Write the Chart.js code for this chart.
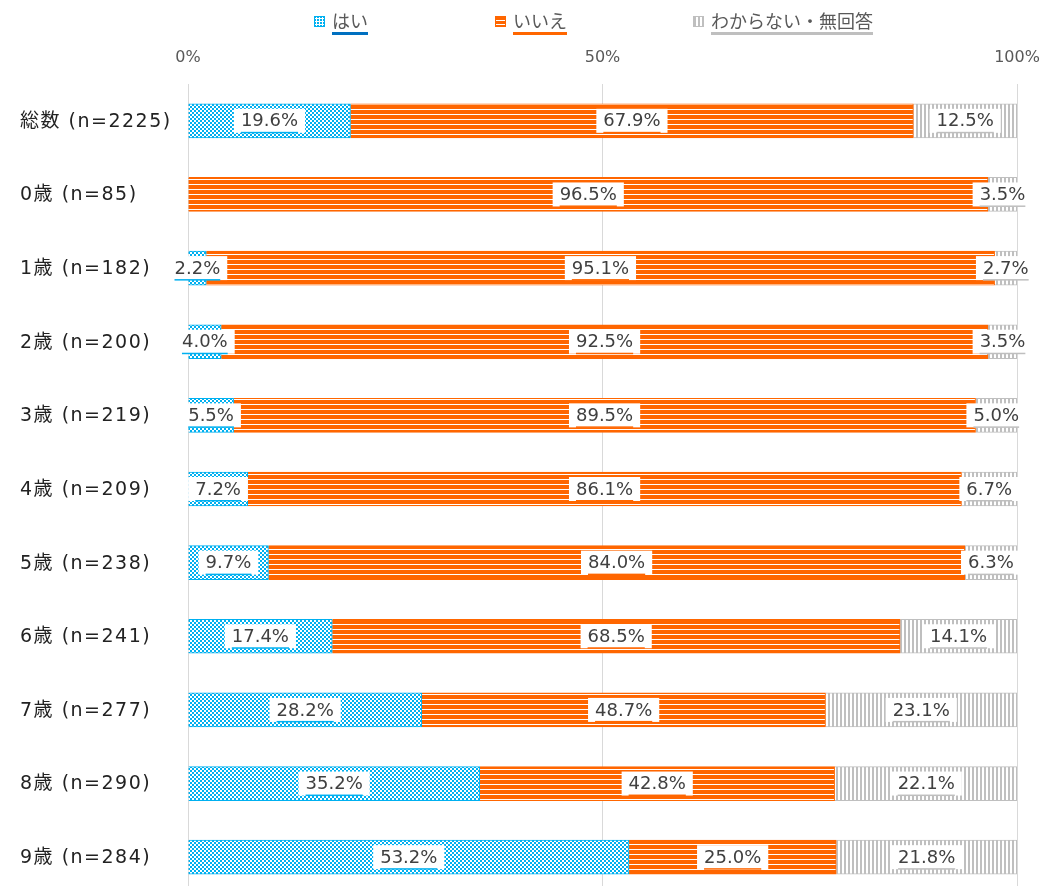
<!DOCTYPE html>
<html>
<head>
<meta charset="utf-8">
<script src="https://cdn.jsdelivr.net/npm/chart.js@4"></script>
<style>
  body { margin: 0; background: #fff; overflow: hidden; }
  #wrap { position: relative; width: 1040px; height: 886px; overflow: hidden; }
  #legend { position: absolute; top: 8px; left: 0; width: 1040px; height: 30px;
    font-family: 'Noto Sans CJK JP', sans-serif; font-size: 18px; color: #595959; }
  .item { position: absolute; top: 0; display: flex; align-items: center; }
  .box { width: 9px; height: 9px; margin-right: 7px; }
  .lbl { line-height: 24px; border-bottom: 3px solid; }
  #box-yes { background-color: #00b0f0; border: 1px solid #00b0f0;
    background-image: radial-gradient(circle, #fff 1px, transparent 1.4px); background-size: 3px 3px; }
  #box-no { border: 1px solid #ff6600; background: repeating-linear-gradient(to bottom, #ff6600 0 3px, #fff 3px 4px); }
  #box-dk { border: 1px solid #bfbfbf; background: repeating-linear-gradient(to right, #bfbfbf 0 2px, #fff 2px 4px); }
</style>
</head>
<body>
<div id="wrap">
  <canvas id="chart" width="1040" height="900"></canvas>
  <div id="legend">
    <div class="item" style="left:314px"><span class="box" id="box-yes"></span><span class="lbl" style="border-color:#0070c0">はい</span></div>
    <div class="item" style="left:495px"><span class="box" id="box-no"></span><span class="lbl" style="border-color:#ff6600">いいえ</span></div>
    <div class="item" style="left:693px"><span class="box" id="box-dk"></span><span class="lbl" style="border-color:#bfbfbf">わからない・無回答</span></div>
  </div>
</div>
<script>
const categories = ['総数 (n=2225)', '0歳 (n=85)', '1歳 (n=182)', '2歳 (n=200)', '3歳 (n=219)',
  '4歳 (n=209)', '5歳 (n=238)', '6歳 (n=241)', '7歳 (n=277)', '8歳 (n=290)', '9歳 (n=284)'];
const yesValues = [19.6, 0, 2.2, 4.0, 5.5, 7.2, 9.7, 17.4, 28.2, 35.2, 53.2];
const noValues = [67.9, 96.5, 95.1, 92.5, 89.5, 86.1, 84.0, 68.5, 48.7, 42.8, 25.0];
const dkValues = [12.5, 3.5, 2.7, 3.5, 5.0, 6.7, 6.3, 14.1, 23.1, 22.1, 21.8];
const tickLabels = ['0%', '50%', '100%'];

// pattern tiles for the bar fills
function makePattern(w, h, draw) {
    const c = document.createElement('canvas');
    c.width = w; c.height = h;
    const g = c.getContext('2d');
    g.fillStyle = '#fff';
    g.fillRect(0, 0, w, h);
    draw(g);
    return document.getElementById('chart').getContext('2d').createPattern(c, 'repeat');
}

const bluePattern = makePattern(4, 4, g => {
    g.fillStyle = '#00b0f0';
    g.fillRect(0, 0, 2, 2);
    g.fillRect(2, 2, 2, 2);
    g.fillRect(1, 1, 1, 1);
});
const orangePattern = makePattern(1, 5, g => {
    g.fillStyle = '#ff6600';
    g.fillRect(0, 0, 1, 4);
});
const grayPattern = makePattern(4, 1, g => {
    g.fillStyle = '#bfbfbf';
    g.fillRect(0, 0, 2, 1);
});

const underlineColors = ['#00b0f0', '#ff6600', '#bfbfbf'];

// white label boxes with a coloured underline, centred in each segment
const labelPlugin = {
    id: 'segLabels',
    afterDatasetsDraw(chart) {
        const ctx = chart.ctx;
        ctx.save();
        ctx.font = '18px "DejaVu Sans"';
        ctx.textAlign = 'center';
        ctx.textBaseline = 'middle';
        chart.data.datasets.forEach((ds, i) => {
            const meta = chart.getDatasetMeta(i);
            meta.data.forEach((el, j) => {
                const v = ds.data[j];
                if (!v) return;
                const cx = (el.x + el.base) / 2;
                const cy = el.y;
                const text = v.toFixed(1) + '%';
                const w = ctx.measureText(text).width;
                ctx.fillStyle = '#fff';
                ctx.fillRect(cx - w / 2 - 7, cy - 12, w + 14, 24);
                ctx.fillStyle = '#404040';
                ctx.fillText(text, cx, cy + 1);
                ctx.fillStyle = underlineColors[i];
                ctx.fillRect(cx - w / 2, cy + 11, w, 1.5);
            });
        });
        ctx.restore();
    }
};

// category labels, drawn with a little letter spacing like the original
const categoryPlugin = {
    id: 'catLabels',
    afterDraw(chart) {
        const ctx = chart.ctx;
        const y = chart.scales.y;
        ctx.save();
        ctx.font = '19px "DejaVu Sans", "Noto Sans CJK JP"';
        ctx.letterSpacing = '1.5px';
        ctx.fillStyle = '#222';
        ctx.textAlign = 'left';
        ctx.textBaseline = 'middle';
        chart.data.labels.forEach((lab, i) => {
            ctx.fillText(lab, 20, y.getPixelForValue(i) + 1);
        });
        ctx.restore();
    }
};

new Chart(document.getElementById('chart'), {
    type: 'bar',
    data: {
        labels: categories,
        datasets: [
            { label: 'はい', data: yesValues, backgroundColor: bluePattern, borderColor: '#00b0f0', borderWidth: 1 },
            { label: 'いいえ', data: noValues, backgroundColor: orangePattern, borderColor: '#ff6600', borderWidth: 1 },
            { label: 'わからない・無回答', data: dkValues, backgroundColor: grayPattern, borderColor: '#bfbfbf', borderWidth: 1 }
        ]
    },
    options: {
        indexAxis: 'y',
        responsive: false,
        animation: false,
        barThickness: 34,
        layout: { padding: { left: 20, right: 23, top: 0, bottom: 6 } },
        scales: {
            x: {
                position: 'top',
                stacked: true,
                min: 0,
                max: 100,
                ticks: {
                    stepSize: 50,
                    padding: 17,
                    color: '#595959',
                    font: { family: 'DejaVu Sans', size: 16 },
                    callback: (v, i) => tickLabels[i]
                },
                grid: { color: '#d9d9d9', drawTicks: false },
                border: { display: false },
                afterFit: s => { s.height = 84; s.paddingLeft = 0; s.paddingRight = 0; }
            },
            y: {
                stacked: true,
                grid: { display: false },
                border: { display: false },
                ticks: { display: false },
                afterFit: s => { s.width = 168; }
            }
        },
        plugins: {
            legend: { display: false },
            tooltip: { enabled: false }
        }
    },
    plugins: [labelPlugin, categoryPlugin]
});
</script>
</body>
</html>
